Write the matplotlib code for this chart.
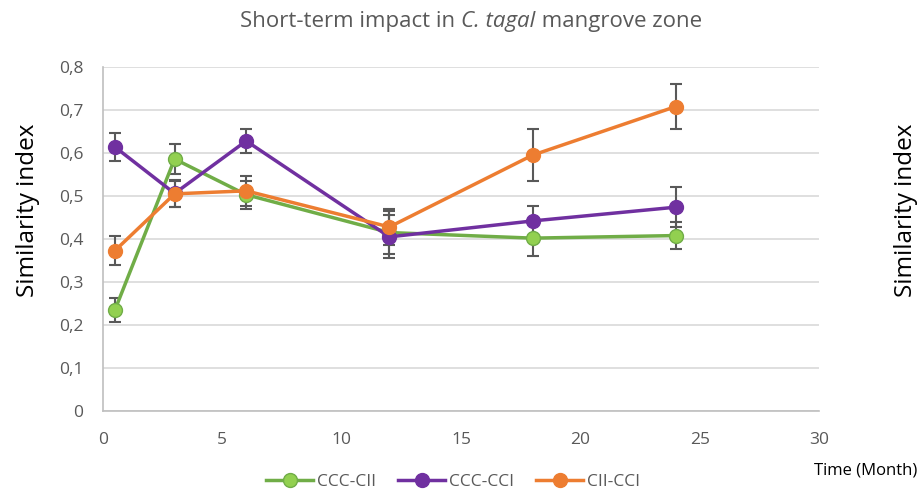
import matplotlib.pyplot as plt
from matplotlib.ticker import FuncFormatter

plt.rcParams['font.family'] = ['Open Sans', 'DejaVu Sans']

# time points (months) and similarity values per comparison
months = [0.5, 3, 6, 12, 18, 24]

ccc_cii = [0.235, 0.586, 0.503, 0.415, 0.402, 0.408]
ccc_cii_err = [0.028, 0.034, 0.033, 0.050, 0.042, 0.032]

ccc_cci = [0.614, 0.506, 0.628, 0.405, 0.442, 0.474]
ccc_cci_err = [0.032, 0.031, 0.028, 0.050, 0.035, 0.047]

cii_cci = [0.373, 0.505, 0.512, 0.428, 0.595, 0.708]
cii_cci_err = [0.033, 0.030, 0.035, 0.042, 0.060, 0.053]

series = [
    ('CCC-CII', ccc_cii, ccc_cii_err, '#70AD47', '#92D050'),
    ('CCC-CCI', ccc_cci, ccc_cci_err, '#7030A0', '#7030A0'),
    ('CII-CCI', cii_cci, cii_cci_err, '#ED7D31', '#ED7D31'),
]

fig = plt.figure(figsize=(9.17, 4.98), dpi=100)
ax = fig.add_axes([103 / 917, 1 - 411 / 498, 716 / 917, 344 / 498])

for name, vals, err, line_c, face_c in series:
    ax.errorbar(months, vals, yerr=err, fmt='none', ecolor='#595959',
                elinewidth=1.5, capsize=4, capthick=1.5, zorder=2)
    ax.plot(months, vals, color=line_c, lw=2.5, marker='o', markersize=10,
            markerfacecolor=face_c, markeredgecolor=line_c, markeredgewidth=1,
            label=name, zorder=3)

ax.set_xlim(0, 30)
ax.set_ylim(0, 0.8)
ax.set_xticks(range(0, 31, 5))
ax.set_yticks([i / 10 for i in range(9)])
ax.yaxis.set_major_formatter(FuncFormatter(
    lambda v, p: '0' if v == 0 else f'{v:.1f}'.replace('.', ',')))
ax.grid(axis='y', color='#d9d9d9', lw=1.2)
ax.set_axisbelow(True)
for s in ['top', 'right']:
    ax.spines[s].set_visible(False)
for s in ['left', 'bottom']:
    ax.spines[s].set_color('#bfbfbf')
    ax.spines[s].set_linewidth(1.2)
ax.tick_params(length=0, labelsize=12.5, colors='#595959')
ax.tick_params(axis='x', pad=15)
ax.tick_params(axis='y', pad=14)

# y axis titles on both sides
fig.text(28 / 917, 1 - 210 / 498, 'Similarity index', rotation=90, fontsize=17.5,
         ha='center', va='center')
fig.text(906 / 917, 1 - 210 / 498, 'Similarity index', rotation=90, fontsize=17.5,
         ha='center', va='center')
fig.text(1.0, 1 - 470 / 498, 'Time (Month)', fontsize=12, ha='right', va='center')

# title with italic species name, pieces laid out side by side
title_parts = [('Short-term impact in ', 'normal'), ('C. tagal', 'italic'),
               (' mangrove zone', 'normal')]
renderer = fig.canvas.get_renderer()
texts = []
widths = []
for s, style in title_parts:
    t = fig.text(0, 1 - 21 / 498, s, fontsize=16, color='#595959',
                 style=style, ha='left', va='center')
    texts.append(t)
    widths.append(t.get_window_extent(renderer).width)
x0 = 471 - sum(widths) / 2
for t, w in zip(texts, widths):
    t.set_x(x0 / 917)
    x0 += w

leg = fig.legend(loc='center', bbox_to_anchor=(453 / 917, 1 - 482 / 498), ncol=3,
                 frameon=False, fontsize=12.5, handlelength=2.7,
                 columnspacing=1.3, handletextpad=0.2)
for t in leg.get_texts():
    t.set_color('#595959')

fig.savefig('out.png', dpi=100)
